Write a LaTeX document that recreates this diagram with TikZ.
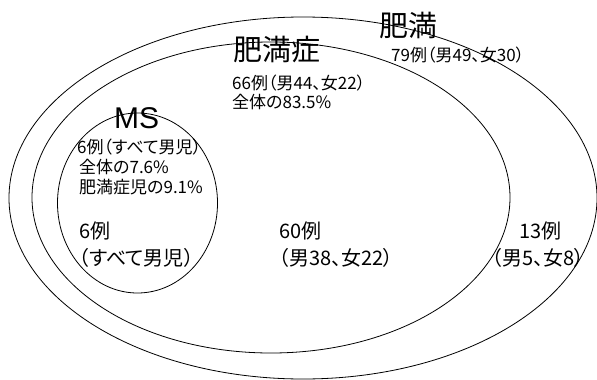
\documentclass[tikz,border=0pt]{standalone}
\usepackage{fontspec}
\setmainfont{Noto Sans CJK JP}[RawFeature=+palt]
\newfontfamily\msfont{Liberation Sans}
\begin{document}
\begin{tikzpicture}[x=1pt,y=-1pt,
  ring/.style={draw=black,line width=0.8pt},
  big/.style={font=\fontsize{29}{29}\selectfont,inner sep=0pt,anchor=west},
  small/.style={font=\fontsize{17}{17}\selectfont,inner sep=0pt,anchor=west},
  mid/.style={font=\fontsize{20}{20}\selectfont,inner sep=0pt,anchor=west}]
\useasboundingbox (0,0) rectangle (597,380);
\fill[white] (0,0) rectangle (597,380);
% shapes
\draw[ring] (303,198) ellipse [x radius=294, y radius=181];
\draw[ring] (271,197.5) ellipse [x radius=239, y radius=155.5];
\draw[ring] (137.5,203) ellipse [x radius=80, y radius=90];
% labels
\node[big] (himan) at (379,25) {肥満};
\node[small] (himanN) at (391,55) {79例（男49、女30）};
\node[big] (himansho) at (233,50) {肥満症};
\node[small] (hsN) at (232,83) {66例（男44、女22）};
\node[small] (hsP) at (232,102) {全体の83.5\%};
\node[font=\msfont\fontsize{30}{30}\selectfont,inner sep=0pt,anchor=west] (ms) at (114,118) {MS};
\node[small] (msN) at (77,147) {6例（すべて男児）};
\node[small] (msP1) at (79,167) {全体の7.6\%};
\node[small] (msP2) at (79,187) {肥満症児の9.1\%};
\node[mid] (a1) at (79,231) {6例};
\node[mid] (a2) at (79,258) {（すべて男児）};
\node[mid] (b1) at (279,231) {60例};
\node[mid] (b2) at (279,258) {（男38、女22）};
\node[mid] (c1) at (519,231) {13例};
\node[mid] (c2) at (492,258) {（男5、女8）};
\end{tikzpicture}
\end{document}
